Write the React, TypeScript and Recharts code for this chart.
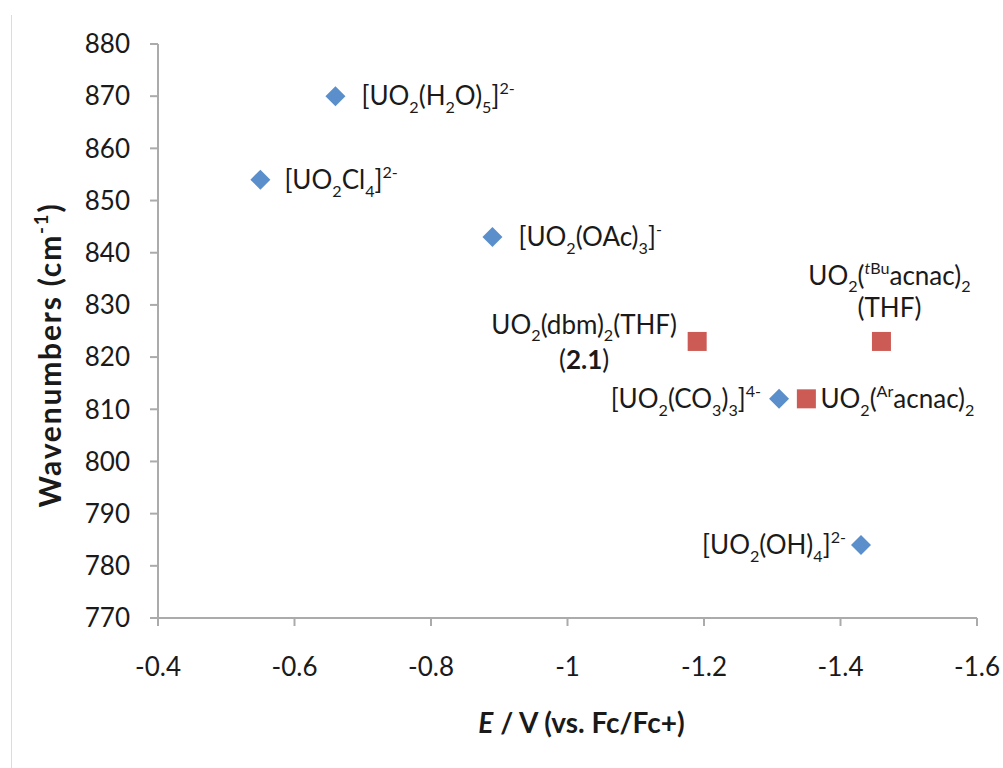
import React from 'react';
import { ScatterChart, Scatter, XAxis, YAxis } from 'recharts';

// ---- data ----
const xTicks = [-0.4, -0.6, -0.8, -1, -1.2, -1.4, -1.6];
const yTicks = [770, 780, 790, 800, 810, 820, 830, 840, 850, 860, 870, 880];

const anionE = [-0.55, -0.66, -0.89, -1.31, -1.43];
const anionNu = [854, 870, 843, 812, 784];
const anionNames = [
  '[UO_2Cl_4]^{2-}',
  '[UO_2(H_2O)_5]^{2-}',
  '[UO_2(OAc)_3]^{-}',
  '[UO_2(CO_3)_3]^{4-}',
  '[UO_2(OH)_4]^{2-}',
];

const neutralE = [-1.19, -1.35, -1.46];
const neutralNu = [823, 812, 823];
const neutralNames = [
  'UO_2(dbm)_2(THF)|(*2.1*)',
  'UO_2(^{Ar}acnac)_2',
  'UO_2(^{~t~Bu}acnac)_2|(THF)',
];

const yTitle = '*Wavenumbers (cm^{-1})*';
const xTitle = '*~E~ / V (vs. Fc/Fc+)*';

// ---- styles ----
const FONT = 'Lato, "Open Sans", sans-serif';
const TEXT = '#1a1a1a';
const AXIS = '#ABABAB';
const BLUE = '#5A8FCB';
const RED = '#CC5B56';
const FS = 26;

type Place = { anchor: 'start' | 'end' | 'middle'; dx: number; dys: number[] };
const anionPlace: Place[] = [
  { anchor: 'start', dx: 24, dys: [0] },
  { anchor: 'start', dx: 26, dys: [0] },
  { anchor: 'start', dx: 26, dys: [0] },
  { anchor: 'end', dx: -18, dys: [0] },
  { anchor: 'end', dx: -15, dys: [0] },
];
const neutralPlace: Place[] = [
  { anchor: 'middle', dx: -113, dys: [-17, 18] },
  { anchor: 'start', dx: 14, dys: [0] },
  { anchor: 'middle', dx: 8, dys: [-66, -34] },
];

// ---- rich text ----
type Seg = { text: string; shift: number; bold: boolean; italic: boolean };
function parse(s: string): Seg[] {
  const segs: Seg[] = [];
  let bold = false;
  let italic = false;
  let i = 0;
  const push = (ch: string, shift: number) => {
    const last = segs[segs.length - 1];
    if (last && last.shift === shift && last.bold === bold && last.italic === italic) last.text += ch;
    else segs.push({ text: ch, shift, bold, italic });
  };
  const handle = (shift: number) => {
    const c = s[i];
    if (c === '*') { bold = !bold; i++; return; }
    if (c === '~') { italic = !italic; i++; return; }
    push(c, shift);
    i++;
  };
  const group = (shift: number) => {
    if (s[i] === '{') {
      i++;
      while (i < s.length && s[i] !== '}') handle(shift);
      i++;
    } else handle(shift);
  };
  while (i < s.length) {
    const c = s[i];
    if (c === '_') { i++; group(1); }
    else if (c === '^') { i++; group(-1); }
    else handle(0);
  }
  return segs;
}

function RichText(props: { x: number; cy: number; anchor: string; fs: number; text: string; transform?: string; spacing?: number }) {
  const { x, cy, anchor, fs, text, transform, spacing } = props;
  const segs = parse(text);
  let cur = 0;
  return (
    <text
      x={x}
      y={cy + fs * 0.35}
      textAnchor={anchor as any}
      fontSize={fs}
      fontFamily={FONT}
      fill={TEXT}
      transform={transform}
      letterSpacing={spacing ?? 0}
    >
      {segs.map((sg, k) => {
        const target = sg.shift === 1 ? fs * 0.3 : sg.shift === -1 ? -fs * 0.42 : 0;
        const dy = target - cur;
        cur = target;
        return (
          <tspan
            key={k}
            dy={dy}
            fontSize={sg.shift === 0 ? fs : fs * 0.62}
            fontWeight={sg.bold ? 700 : 400}
            fontStyle={sg.italic ? 'italic' : 'normal'}
          >
            {sg.text}
          </tspan>
        );
      })}
    </text>
  );
}

const makeShape = (kind: 'diamond' | 'square', places: Place[]) => (props: any) => {
  const { cx, cy, payload } = props;
  const p = places[payload.idx];
  const lines = String(payload.name).split('|');
  const mark =
    kind === 'diamond' ? (
      <polygon points={`${cx},${cy - 10} ${cx + 10},${cy} ${cx},${cy + 10} ${cx - 10},${cy}`} fill={BLUE} />
    ) : (
      <rect x={cx - 9.5} y={cy - 9.5} width={19} height={19} fill={RED} />
    );
  return (
    <g>
      {mark}
      {lines.map((ln, k) => (
        <RichText key={k} x={cx + p.dx} cy={cy + p.dys[k]} anchor={p.anchor} fs={FS} text={ln} />
      ))}
    </g>
  );
};

const anionData = anionE.map((e, i) => ({ e, nu: anionNu[i], name: anionNames[i], idx: i }));
const neutralData = neutralE.map((e, i) => ({ e, nu: neutralNu[i], name: neutralNames[i], idx: i }));

const XTitle = (props: any) => {
  const vb = props.viewBox;
  return <RichText x={vb.x + vb.width / 2 + 14} cy={vb.y + 105} anchor="middle" fs={28} text={xTitle} />;
};
const YTitle = (props: any) => {
  const vb = props.viewBox;
  const cx = vb.x - 48;
  const cy = vb.y + vb.height / 2 + 24;
  return (
    <RichText
      x={cx}
      cy={cy}
      anchor="middle"
      fs={30}
      spacing={1.8}
      text={yTitle}
      transform={`rotate(-90, ${cx}, ${cy})`}
    />
  );
};

export default function App() {
  return (
    <div style={{ position: 'absolute', left: 0, top: 0, width: 1003, height: 768, background: '#fff' }}>
      <div style={{ position: 'absolute', left: 11, top: 15, width: 1, height: 753, background: '#DCDCDC' }} />
      <ScatterChart width={1003} height={768} margin={{ top: 44, right: 26, bottom: 90, left: 98 }}>
        <XAxis
          type="number"
          dataKey="e"
          domain={[-1.6, -0.4]}
          reversed
          ticks={xTicks}
          interval={0}
          allowDataOverflow
          height={60}
          tickSize={8}
          tickMargin={32}
          stroke={AXIS}
          strokeWidth={2}
          tick={{ fill: TEXT, fontSize: FS, fontFamily: FONT }}
          label={{ content: XTitle } as any}
        />
        <YAxis
          type="number"
          dataKey="nu"
          domain={[770, 880]}
          ticks={yTicks}
          interval={0}
          allowDataOverflow
          width={60}
          tickSize={8}
          tickMargin={20}
          stroke={AXIS}
          strokeWidth={2}
          tick={{ fill: TEXT, fontSize: FS, fontFamily: FONT }}
          label={{ content: YTitle } as any}
        />
        <Scatter data={anionData} isAnimationActive={false} shape={makeShape('diamond', anionPlace)} />
        <Scatter data={neutralData} isAnimationActive={false} shape={makeShape('square', neutralPlace)} />
      </ScatterChart>
    </div>
  );
}
